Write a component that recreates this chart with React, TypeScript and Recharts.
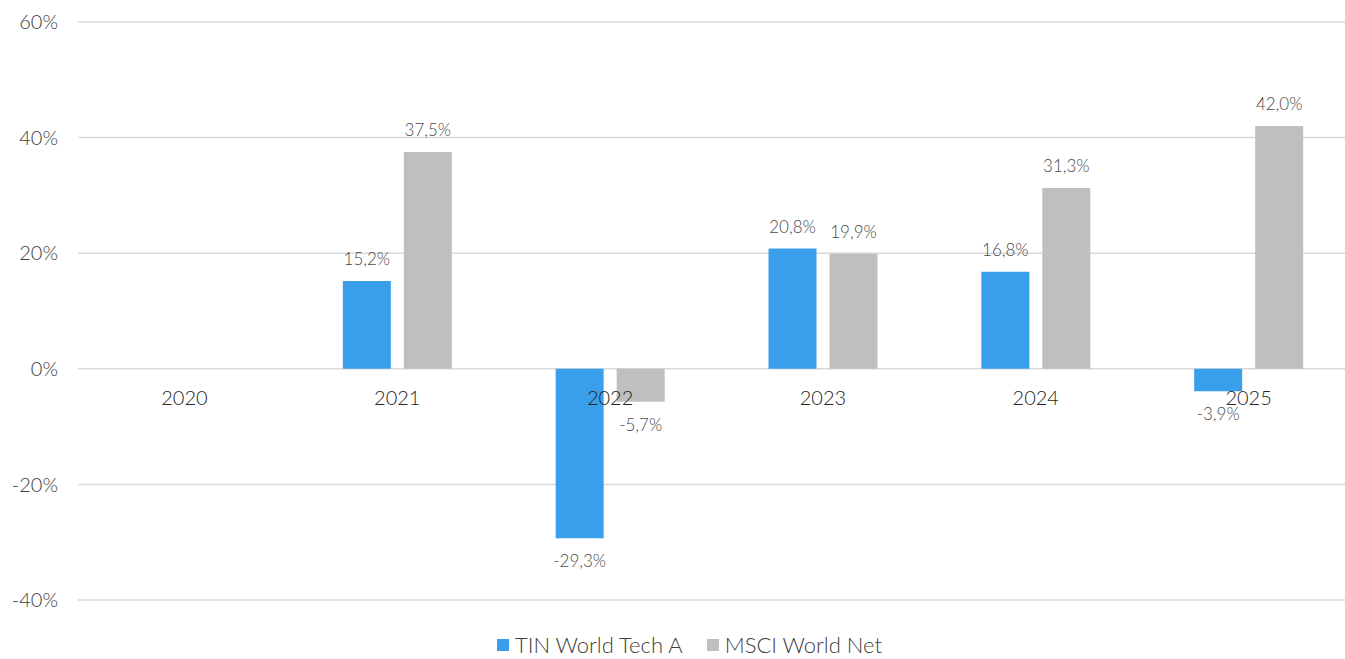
import React from "react";
import {
  ComposedChart,
  Bar,
  Line,
  XAxis,
  YAxis,
  CartesianGrid,
  Legend,
  LabelList,
} from "recharts";

// yearly returns, % (2020 has no data)
const years = ["2020", "2021", "2022", "2023", "2024", "2025"];
const tinWorldTech = [null, 15.2, -29.3, 20.8, 16.8, -3.9];
const msciWorldNet = [null, 37.5, -5.7, 19.9, 31.3, 42.0];
const yTicks = [-40, -20, 0, 20, 40, 60];

const seriesNames = { tin: "TIN World Tech A", msci: "MSCI World Net" };
const BLUE = "#3a9fea";
const GREY = "#bfbfbf";
const FONT = "Lato, 'Open Sans', sans-serif";

const data = years.map((year, i) => ({
  year,
  tin: tinWorldTech[i],
  msci: msciWorldNet[i],
  zero: 0,
}));

const fmt = (v: number) => `${v.toFixed(1).replace(".", ",")}%`;

const ValueLabel = (props: any) => {
  const { x, y, width, height, value } = props;
  if (value === null || value === undefined) return null;
  const top = Math.min(y, y + height);
  const bottom = Math.max(y, y + height);
  const ty = value >= 0 ? top - 16 : bottom + 29;
  return (
    <text
      x={x + width / 2}
      y={ty}
      textAnchor="middle"
      fontSize={17}
      fontWeight={300}
      fontFamily={FONT}
      fill="#4a4a4a"
    >
      {fmt(value)}
    </text>
  );
};

// category labels sit just under the zero line
const YearLabel = (props: any) => {
  const { x, y, index } = props;
  return (
    <text
      x={x}
      y={y + 36}
      textAnchor="middle"
      fontSize={20}
      fontWeight={300}
      fontFamily={FONT}
      fill="#262626"
    >
      {years[index]}
    </text>
  );
};

const LegendBox = () => (
  <div
    style={{
      height: 59,
      display: "flex",
      justifyContent: "center",
      alignItems: "flex-end",
      paddingLeft: 24,
      paddingBottom: 3,
      boxSizing: "border-box",
      fontFamily: FONT,
      fontWeight: 300,
      fontSize: 22,
      color: "#404040",
    }}
  >
    {[
      { name: seriesNames.tin, color: BLUE },
      { name: seriesNames.msci, color: GREY },
    ].map((item, i) => (
      <div
        key={item.name}
        style={{
          display: "flex",
          alignItems: "center",
          marginLeft: i ? 24 : 0,
          lineHeight: "22px",
        }}
      >
        <span
          style={{
            width: 12,
            height: 12,
            background: item.color,
            display: "inline-block",
            marginRight: 6,
          }}
        />
        {item.name}
      </div>
    ))}
  </div>
);

export default function App() {
  return (
    <div
      style={{
        position: "absolute",
        left: 0,
        top: 0,
        width: 1345,
        height: 659,
        overflow: "hidden",
        background: "#fff",
      }}
    >
      <ComposedChart
        width={1360}
        height={659}
        data={data}
        margin={{ top: 22, right: 5, left: 0, bottom: 0 }}
        barGap={13}
      >
        <CartesianGrid vertical={false} stroke="#d9d9d9" strokeWidth={1.5} />
        <XAxis dataKey="year" hide />
        <YAxis
          domain={[-40, 60]}
          ticks={yTicks}
          width={78}
          axisLine={false}
          tickLine={false}
          tickSize={0}
          tickMargin={20}
          tickFormatter={(v) => `${v}%`}
          tick={{
            fontSize: 20,
            fill: "#404040",
            fontFamily: FONT,
            fontWeight: 300,
          }}
        />
        <Legend verticalAlign="bottom" content={<LegendBox />} />
        <Bar
          dataKey="tin"
          name={seriesNames.tin}
          fill={BLUE}
          barSize={48}
          isAnimationActive={false}
        >
          <LabelList dataKey="tin" content={<ValueLabel />} />
        </Bar>
        <Bar
          dataKey="msci"
          name={seriesNames.msci}
          fill={GREY}
          barSize={48}
          isAnimationActive={false}
        >
          <LabelList dataKey="msci" content={<ValueLabel />} />
        </Bar>
        <Line
          dataKey="zero"
          stroke="none"
          dot={false}
          activeDot={false}
          legendType="none"
          isAnimationActive={false}
        >
          <LabelList dataKey="zero" content={<YearLabel />} />
        </Line>
      </ComposedChart>
    </div>
  );
}
